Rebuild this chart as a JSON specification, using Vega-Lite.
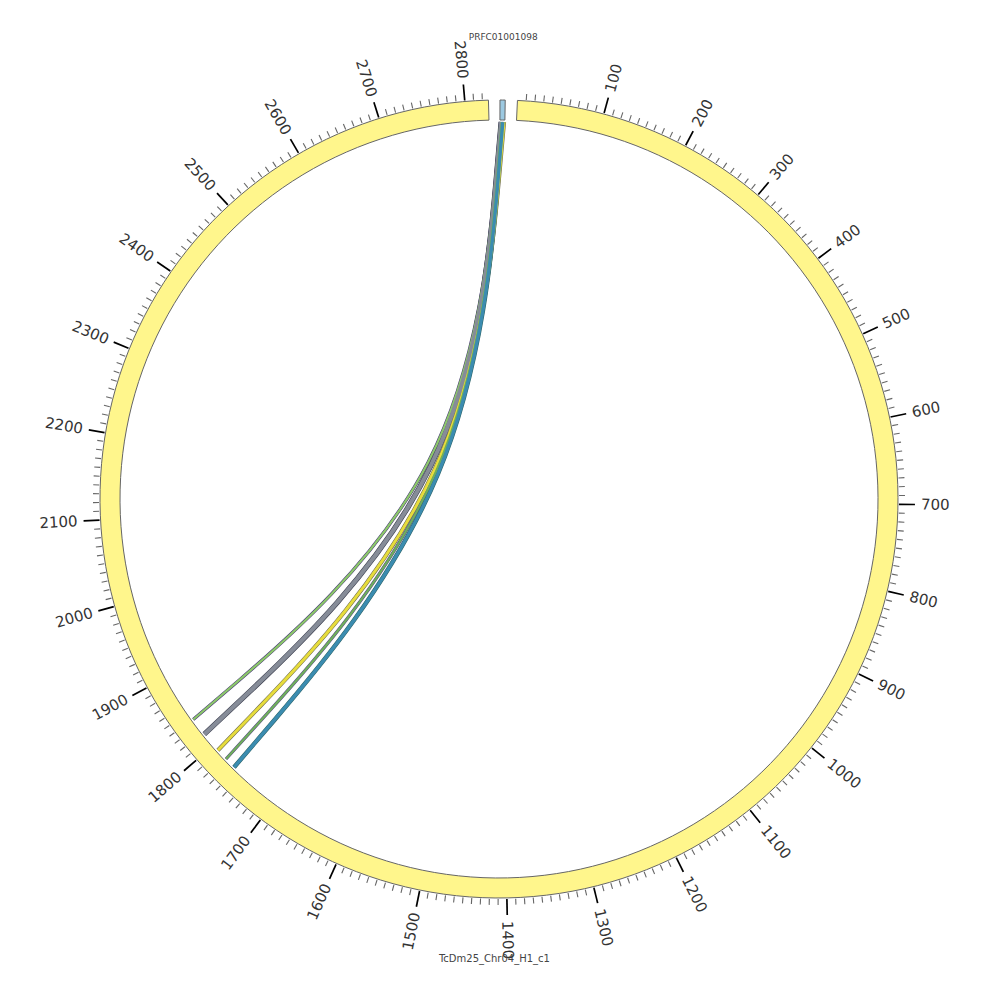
{
  "$schema": "https://vega.github.io/schema/vega-lite/v6.json",
  "width": 1000,
  "height": 1000,
  "autosize": {"type": "fit", "contains": "padding"},
  "padding": {"left": 0, "top": 0, "right": 2, "bottom": 2},
  "background": "white",
  "config": {"view": {"stroke": null}},
  "datasets": {
    "seqs": [
      {"name": "TcDm25_Chr04_H1_c1", "len": 2827},
      {"name": "PRFC01001098", "len": 6}
    ],
    "ticks": [10,20,30,40,50,60,70,80,90,100,110,120,130,140,150,160,170,180,190,200,210,220,230,240,250,260,270,280,290,300,310,320,330,340,350,360,370,380,390,400,410,420,430,440,450,460,470,480,490,500,510,520,530,540,550,560,570,580,590,600,610,620,630,640,650,660,670,680,690,700,710,720,730,740,750,760,770,780,790,800,810,820,830,840,850,860,870,880,890,900,910,920,930,940,950,960,970,980,990,1000,1010,1020,1030,1040,1050,1060,1070,1080,1090,1100,1110,1120,1130,1140,1150,1160,1170,1180,1190,1200,1210,1220,1230,1240,1250,1260,1270,1280,1290,1300,1310,1320,1330,1340,1350,1360,1370,1380,1390,1400,1410,1420,1430,1440,1450,1460,1470,1480,1490,1500,1510,1520,1530,1540,1550,1560,1570,1580,1590,1600,1610,1620,1630,1640,1650,1660,1670,1680,1690,1700,1710,1720,1730,1740,1750,1760,1770,1780,1790,1800,1810,1820,1830,1840,1850,1860,1870,1880,1890,1900,1910,1920,1930,1940,1950,1960,1970,1980,1990,2000,2010,2020,2030,2040,2050,2060,2070,2080,2090,2100,2110,2120,2130,2140,2150,2160,2170,2180,2190,2200,2210,2220,2230,2240,2250,2260,2270,2280,2290,2300,2310,2320,2330,2340,2350,2360,2370,2380,2390,2400,2410,2420,2430,2440,2450,2460,2470,2480,2490,2500,2510,2520,2530,2540,2550,2560,2570,2580,2590,2600,2610,2620,2630,2640,2650,2660,2670,2680,2690,2700,2710,2720,2730,2740,2750,2760,2770,2780,2790,2800,2810,2820],
    "links": [
      {"id": "L1", "qs": 0.2, "qe": 1.2, "ts": 1837.8, "te": 1841.4},
      {"id": "L2", "qs": 0.8, "qe": 2.2, "ts": 1814.1, "te": 1820.7},
      {"id": "L3", "qs": 4.0, "qe": 6.0, "ts": 1789.6, "te": 1794.4},
      {"id": "L4", "qs": 1.5, "qe": 3.0, "ts": 1775.8, "te": 1779.4},
      {"id": "L5", "qs": 2.5, "qe": 4.5, "ts": 1761.0, "te": 1766.4}
    ]
  },
  "layer": [
    {
      "data": {"name": "seqs"},
      "transform": [
        {"calculate": "datum.name == 'PRFC01001098' ? 0.14 : 2.65", "as": "t0"},
        {"calculate": "datum.t0 + 0.12587 * datum.len", "as": "t1"}
      ],
      "mark": {"type": "arc", "radius": 399, "radius2": 379, "stroke": "#666666", "strokeWidth": 1},
      "encoding": {
        "theta": {"field": "t0", "type": "quantitative", "scale": {"domain": [0, 360], "range": [0, 6.283185307179586]}},
        "theta2": {"field": "t1"},
        "fill": {"field": "name", "type": "nominal", "scale": {"domain": ["TcDm25_Chr04_H1_c1", "PRFC01001098"], "range": ["#fff68c", "#9cc9e1"]}, "legend": null}
      }
    },
    {
      "data": {"name": "ticks"},
      "transform": [
        {"filter": "datum.data % 100 != 0"},
        {"calculate": "(2.65 + 0.12587 * datum.data) * PI / 180", "as": "a"},
        {"calculate": "400 * sin(datum.a)", "as": "xa"},
        {"calculate": "400 * cos(datum.a)", "as": "ya"},
        {"calculate": "406 * sin(datum.a)", "as": "xb"},
        {"calculate": "406 * cos(datum.a)", "as": "yb"}
      ],
      "mark": {"type": "rule", "color": "#666666", "strokeWidth": 1.1},
      "encoding": {
        "x": {"field": "xa", "type": "quantitative", "scale": {"domain": [-499, 499], "nice": false, "zero": false}, "axis": null},
        "y": {"field": "ya", "type": "quantitative", "scale": {"domain": [-499, 499], "nice": false, "zero": false}, "axis": null},
        "x2": {"field": "xb"},
        "y2": {"field": "yb"}
      }
    },
    {
      "data": {"name": "ticks"},
      "transform": [
        {"filter": "datum.data % 100 == 0"},
        {"calculate": "(2.65 + 0.12587 * datum.data) * PI / 180", "as": "a"},
        {"calculate": "400 * sin(datum.a)", "as": "xa"},
        {"calculate": "400 * cos(datum.a)", "as": "ya"},
        {"calculate": "416 * sin(datum.a)", "as": "xb"},
        {"calculate": "416 * cos(datum.a)", "as": "yb"}
      ],
      "mark": {"type": "rule", "color": "#000000", "strokeWidth": 1.7},
      "encoding": {
        "x": {"field": "xa", "type": "quantitative", "scale": {"domain": [-499, 499], "nice": false, "zero": false}, "axis": null},
        "y": {"field": "ya", "type": "quantitative", "scale": {"domain": [-499, 499], "nice": false, "zero": false}, "axis": null},
        "x2": {"field": "xb"},
        "y2": {"field": "yb"}
      }
    },
    {
      "data": {"name": "ticks"},
      "transform": [
        {"filter": "datum.data % 100 == 0"},
        {"calculate": "2.65 + 0.12587 * datum.data", "as": "deg"},
        {"filter": "datum.deg < 180"},
        {"calculate": "422 * sin(datum.deg * PI / 180)", "as": "lx"},
        {"calculate": "422 * cos(datum.deg * PI / 180)", "as": "ly"},
        {"calculate": "datum.deg - 90", "as": "ta"}
      ],
      "mark": {"type": "text", "align": "left", "baseline": "middle", "fontSize": 15, "font": "DejaVu Sans", "color": "#333333"},
      "encoding": {
        "x": {"field": "lx", "type": "quantitative", "scale": {"domain": [-499, 499], "nice": false, "zero": false}, "axis": null},
        "y": {"field": "ly", "type": "quantitative", "scale": {"domain": [-499, 499], "nice": false, "zero": false}, "axis": null},
        "angle": {"field": "ta", "type": "quantitative", "scale": null},
        "text": {"field": "data", "type": "nominal"}
      }
    },
    {
      "data": {"name": "ticks"},
      "transform": [
        {"filter": "datum.data % 100 == 0"},
        {"calculate": "2.65 + 0.12587 * datum.data", "as": "deg"},
        {"filter": "datum.deg >= 180"},
        {"calculate": "422 * sin(datum.deg * PI / 180)", "as": "lx"},
        {"calculate": "422 * cos(datum.deg * PI / 180)", "as": "ly"},
        {"calculate": "datum.deg - 270", "as": "ta"}
      ],
      "mark": {"type": "text", "align": "right", "baseline": "middle", "fontSize": 15, "font": "DejaVu Sans", "color": "#333333"},
      "encoding": {
        "x": {"field": "lx", "type": "quantitative", "scale": {"domain": [-499, 499], "nice": false, "zero": false}, "axis": null},
        "y": {"field": "ly", "type": "quantitative", "scale": {"domain": [-499, 499], "nice": false, "zero": false}, "axis": null},
        "angle": {"field": "ta", "type": "quantitative", "scale": null},
        "text": {"field": "data", "type": "nominal"}
      }
    },
    {
      "data": {"name": "seqs"},
      "transform": [
        {"filter": "datum.name == 'PRFC01001098'"},
        {"calculate": "0.14 + 0.12587 * datum.len / 2", "as": "mid"},
        {"calculate": "462 * sin(datum.mid * PI / 180)", "as": "nx"},
        {"calculate": "462 * cos(datum.mid * PI / 180)", "as": "ny"}
      ],
      "mark": {"type": "text", "align": "center", "baseline": "middle", "fontSize": 9, "font": "DejaVu Sans", "color": "#444444"},
      "encoding": {
        "x": {"field": "nx", "type": "quantitative", "scale": {"domain": [-499, 499], "nice": false, "zero": false}, "axis": null},
        "y": {"field": "ny", "type": "quantitative", "scale": {"domain": [-499, 499], "nice": false, "zero": false}, "axis": null},
        "text": {"field": "name", "type": "nominal"}
      }
    },
    {
      "data": {"name": "seqs"},
      "transform": [
        {"filter": "datum.name != 'PRFC01001098'"},
        {"calculate": "2.65 + 0.12587 * datum.len / 2", "as": "mid"},
        {"calculate": "460 * sin(datum.mid * PI / 180)", "as": "nx"},
        {"calculate": "460 * cos(datum.mid * PI / 180)", "as": "ny"}
      ],
      "mark": {"type": "text", "align": "center", "baseline": "middle", "fontSize": 10, "font": "DejaVu Sans", "color": "#444444"},
      "encoding": {
        "x": {"field": "nx", "type": "quantitative", "scale": {"domain": [-499, 499], "nice": false, "zero": false}, "axis": null},
        "y": {"field": "ny", "type": "quantitative", "scale": {"domain": [-499, 499], "nice": false, "zero": false}, "axis": null},
        "text": {"field": "name", "type": "nominal"}
      }
    },
    {
      "data": {"name": "links"},
      "transform": [
        {"calculate": "(0.14 + 0.12587 * (datum.qs + datum.qe) / 2) * PI / 180", "as": "aq"},
        {"calculate": "(2.65 + 0.12587 * (datum.ts + datum.te) / 2) * PI / 180", "as": "at"},
        {"calculate": "datum.te - datum.ts", "as": "w"},
        {"calculate": "377 * sin(datum.aq)", "as": "x0"},
        {"calculate": "377 * cos(datum.aq)", "as": "y0"},
        {"calculate": "377 * sin(datum.at)", "as": "x2"},
        {"calculate": "377 * cos(datum.at)", "as": "y2"},
        {"calculate": "0.1 * (datum.x0 + datum.x2)", "as": "x1"},
        {"calculate": "0.1 * (datum.y0 + datum.y2)", "as": "y1"},
        {"fold": ["x0", "x1", "x2"], "as": ["k", "px"]},
        {"calculate": "datum.k == 'x0' ? datum.y0 : (datum.k == 'x1' ? datum.y1 : datum.y2)", "as": "py"}
      ],
      "mark": {"type": "line", "interpolate": "basis", "strokeCap": "butt"},
      "encoding": {
        "x": {"field": "px", "type": "quantitative", "scale": {"domain": [-499, 499], "nice": false, "zero": false}, "axis": null},
        "y": {"field": "py", "type": "quantitative", "scale": {"domain": [-499, 499], "nice": false, "zero": false}, "axis": null},
        "order": {"field": "k"},
        "stroke": {"field": "id", "type": "nominal", "scale": {"domain": ["L1", "L2", "L3", "L4", "L5"], "range": ["#4a3a78", "#3f4252", "#6e6a50", "#5a4a88", "#2e6468"]}, "legend": null},
        "strokeWidth": {"field": "w", "type": "quantitative", "scale": {"domain": [0, 10], "range": [0.8, 7.6]}, "legend": null}
      }
    },
    {
      "data": {"name": "links"},
      "transform": [
        {"calculate": "(0.14 + 0.12587 * (datum.qs + datum.qe) / 2) * PI / 180", "as": "aq"},
        {"calculate": "(2.65 + 0.12587 * (datum.ts + datum.te) / 2) * PI / 180", "as": "at"},
        {"calculate": "datum.te - datum.ts", "as": "w"},
        {"calculate": "377 * sin(datum.aq)", "as": "x0"},
        {"calculate": "377 * cos(datum.aq)", "as": "y0"},
        {"calculate": "377 * sin(datum.at)", "as": "x2"},
        {"calculate": "377 * cos(datum.at)", "as": "y2"},
        {"calculate": "0.1 * (datum.x0 + datum.x2)", "as": "x1"},
        {"calculate": "0.1 * (datum.y0 + datum.y2)", "as": "y1"},
        {"fold": ["x0", "x1", "x2"], "as": ["k", "px"]},
        {"calculate": "datum.k == 'x0' ? datum.y0 : (datum.k == 'x1' ? datum.y1 : datum.y2)", "as": "py"}
      ],
      "mark": {"type": "line", "interpolate": "basis", "strokeCap": "butt"},
      "encoding": {
        "x": {"field": "px", "type": "quantitative", "scale": {"domain": [-499, 499], "nice": false, "zero": false}, "axis": null},
        "y": {"field": "py", "type": "quantitative", "scale": {"domain": [-499, 499], "nice": false, "zero": false}, "axis": null},
        "order": {"field": "k"},
        "color": {"field": "id", "type": "nominal", "scale": {"domain": ["L1", "L2", "L3", "L4", "L5"], "range": ["#8cc86a", "#868c98", "#e6dc3c", "#6fae5c", "#3b8cb0"]}, "legend": null},
        "size": {"field": "w", "type": "quantitative", "scale": {"domain": [0, 10], "range": [0, 6.2]}, "legend": null}
      }
    }
  ]
}
